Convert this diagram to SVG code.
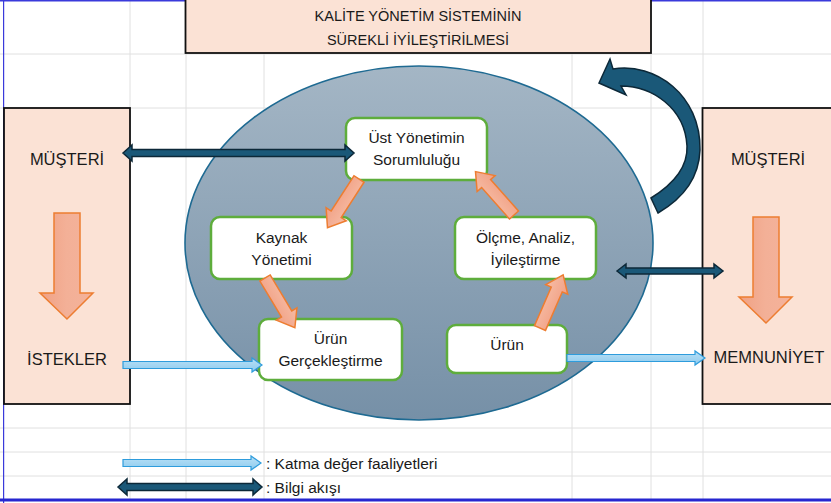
<svg xmlns="http://www.w3.org/2000/svg" width="831" height="503" viewBox="0 0 831 503">
<style>
.grid{stroke:#E0E0E0;stroke-width:1;fill:none}
.box{fill:#FBE2D5;stroke:#111;stroke-width:1.8}
.node{fill:#fff;stroke:#5EAD3C;stroke-width:2.5}
.t{font-family:"Liberation Sans",Arial,sans-serif;fill:#1a1a1a;text-anchor:middle}
.nt{font-size:15.5px}
.bt{font-size:16.5px}
.title{font-size:14.5px}
.lg{font-family:"Liberation Sans",Arial,sans-serif;fill:#1a1a1a;font-size:15.5px}
.orange{fill:url(#og);stroke:#ED7D31;stroke-width:1.5;stroke-linejoin:miter}
.down{fill:url(#dg);stroke:#ED7D31;stroke-width:1.5}
.dark{fill:#1A5878;stroke:#0C2838;stroke-width:1.5;stroke-linejoin:miter}
.light{fill:url(#lg);stroke:#2E9CDC;stroke-width:1.2}
</style>
<defs>
<linearGradient id="eg" x1="0" y1="0" x2="0" y2="1">
<stop offset="0" stop-color="#A4B6C5"/>
<stop offset="1" stop-color="#7690A7"/>
</linearGradient>
<linearGradient id="og" x1="0" y1="0" x2="0" y2="1">
<stop offset="0" stop-color="#F6BCA5"/>
<stop offset="1" stop-color="#F1A084"/>
</linearGradient>
<linearGradient id="dg" x1="0" y1="0" x2="1" y2="0">
<stop offset="0" stop-color="#F0A184"/>
<stop offset="0.5" stop-color="#F3B097"/>
<stop offset="1" stop-color="#F4B29A"/>
</linearGradient>
<linearGradient id="lg" x1="0" y1="0" x2="0" y2="1">
<stop offset="0" stop-color="#B9E0F6"/>
<stop offset="1" stop-color="#8ECBEE"/>
</linearGradient>
<path id="oarr" d="M0,-6 L42,-6 L42,-12 L58,0 L42,12 L42,6 L0,6 Z"/>
</defs>
<rect width="831" height="503" fill="#fff"/>
<g id="grid">
<path class="grid" d="M0,54H831M0,108H831M0,428H831M0,452H831M0,476H831M130,0V500M186,0V500M264,0V500M572,0V500M651,0V500M703,0V500"/>
</g>
<rect x="0" y="0" width="831" height="1.5" fill="#3A3ADB"/>
<rect x="3" y="0" width="1.2" height="503" fill="#3A3ADB"/>
<rect x="0" y="498.5" width="831" height="3" fill="#2626D0"/>
<g id="title">
<rect class="box" x="185.5" y="-2" width="465.5" height="55"/>
<text class="t title" x="418" y="21">KALİTE YÖNETİM SİSTEMİNİN</text>
<text class="t title" x="418" y="45">SÜREKLİ İYİLEŞTİRİLMESİ</text>
</g>
<g id="customer-left">
<rect class="box" x="4" y="108" width="126" height="296"/>
<text class="t bt" x="67" y="165">MÜŞTERİ</text>
<path class="down" d="M54,213H80V293H93L67,319L40,293H54Z"/>
<text class="t bt" x="67" y="365">İSTEKLER</text>
</g>
<g id="customer-right">
<rect class="box" x="702.5" y="108" width="131" height="296"/>
<text class="t bt" x="768" y="165">MÜŞTERİ</text>
<path class="down" d="M753,217H779V297H792L766,323L739,297H753Z"/>
<text class="t bt" x="769" y="363">MEMNUNİYET</text>
</g>
<g id="system">
<ellipse cx="419" cy="243" rx="234" ry="177" fill="url(#eg)" stroke="#1E6A92" stroke-width="1.6"/>
</g>
<g id="node-ust">
<rect class="node" x="346" y="118" width="141" height="62" rx="9"/>
<text class="t nt" x="416.5" y="143">Üst Yönetimin</text>
<text class="t nt" x="416.5" y="165">Sorumluluğu</text>
</g>
<g id="node-kaynak">
<rect class="node" x="211" y="217" width="141" height="62" rx="9"/>
<text class="t nt" x="281.5" y="243">Kaynak</text>
<text class="t nt" x="281.5" y="265">Yönetimi</text>
</g>
<g id="node-gerceklestirme">
<rect class="node" x="259" y="319" width="143" height="61" rx="9"/>
<text class="t nt" x="330.5" y="344">Ürün</text>
<text class="t nt" x="330.5" y="366">Gerçekleştirme</text>
</g>
<g id="node-olcme">
<rect class="node" x="455" y="217" width="141" height="62" rx="9"/>
<text class="t nt" x="525.5" y="243">Ölçme, Analiz,</text>
<text class="t nt" x="525.5" y="265">İyileştirme</text>
</g>
<g id="node-urun">
<rect class="node" x="447" y="325" width="120" height="48" rx="9"/>
<text class="t nt" x="507" y="350">Ürün</text>
</g>
<g id="connectors">
<use href="#oarr" class="orange" transform="translate(359,179) rotate(122.9)"/>
<use href="#oarr" class="orange" transform="translate(265,278) rotate(59)"/>
<use href="#oarr" class="orange" transform="translate(540,328) rotate(-66.5)"/>
<use href="#oarr" class="orange" transform="translate(514,215) rotate(-131.6)"/>
<path class="dark" d="M123,153L132,145V149.5H345V145L354,153L345,161V156.5H132V161Z"/>
<path class="dark" d="M617,271L626,264V268H714V264L723,271L714,278V274H626V278Z"/>
<path class="light" d="M123,361.5H252V358L262,365L252,372V368.5H123Z"/>
<path class="light" d="M567,354.5H695V351L705,358L695,365V361.5H567Z"/>
<path class="dark" d="M613,69C655,62 701,95 700,150C699,178 682,199 658,213L651,198C672,185 688,168 687,146C685,108 652,86 621,86L626,95L599,83L610,59Z"/>
</g>
<g id="legend">
<path class="light" d="M123,459.5H251V456L261,463L251,470V466.5H123Z"/>
<text class="lg" x="266" y="469">: Katma değer faaliyetleri</text>
<path class="dark" d="M118,487L127,479V483.5H253V479L262,487L253,495V490.5H127V495Z"/>
<text class="lg" x="266" y="493">: Bilgi akışı</text>
</g>
</svg>
